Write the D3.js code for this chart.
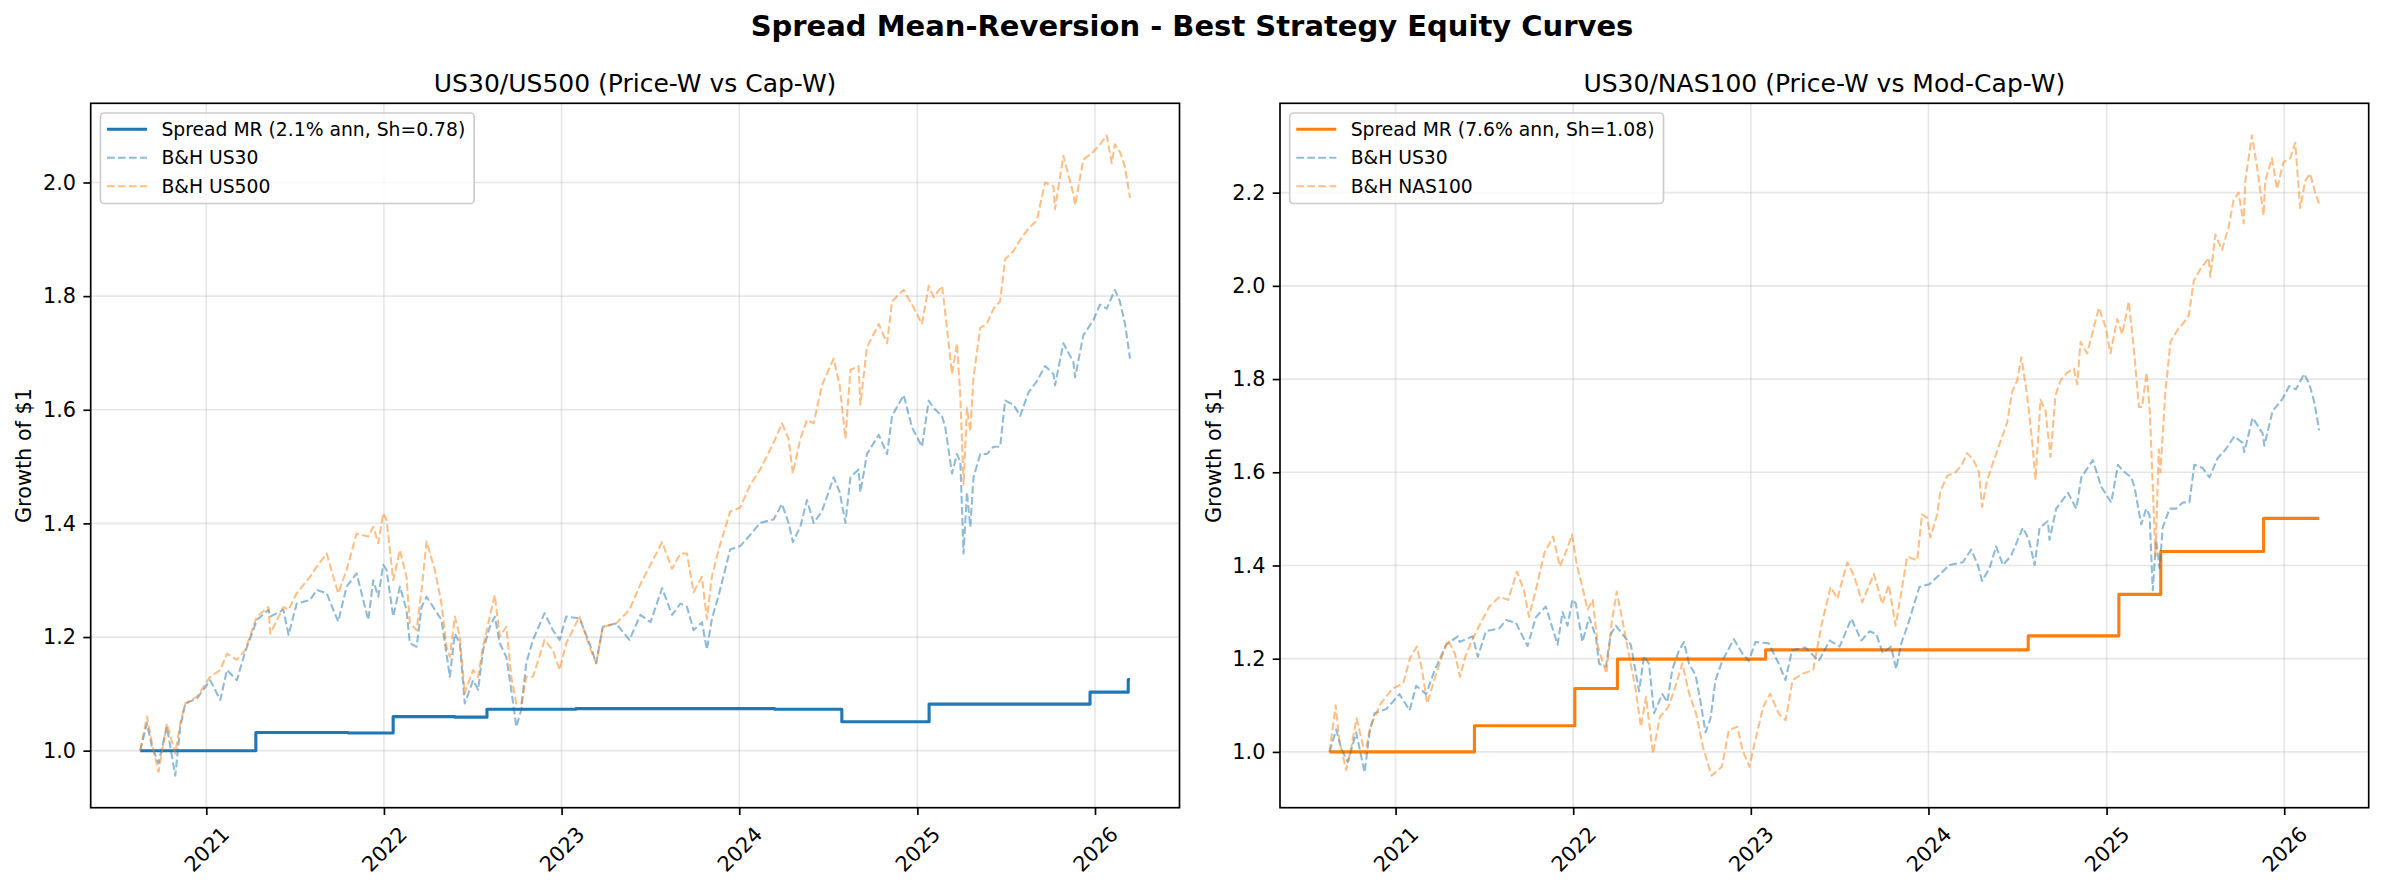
<!DOCTYPE html>
<html><head><meta charset="utf-8">
<script src="https://cdn.jsdelivr.net/npm/d3@7"></script>
<style>
html,body{margin:0;padding:0;background:#fff;}
svg{display:block;font-family:"DejaVu Sans",sans-serif;}
</style></head><body>
<svg id="chart" width="2384" height="889"></svg>
<script>
// ---------------- DATA (times are decimal years) ----------------
const bhTime = [2020.629,2020.667,2020.695,2020.732,2020.779,2020.826,2020.854,2020.882,2020.948,2021.022,
2021.079,2021.116,2021.172,2021.219,2021.285,2021.350,2021.360,2021.434,2021.463,2021.509,
2021.584,2021.622,2021.678,2021.715,2021.743,2021.790,2021.846,2021.912,2021.940,2021.968,
2021.996,2022.015,2022.052,2022.090,2022.127,2022.146,2022.184,2022.212,2022.240,2022.287,
2022.324,2022.352,2022.371,2022.399,2022.427,2022.455,2022.502,2022.530,2022.558,2022.596,
2022.624,2022.652,2022.689,2022.717,2022.745,2022.773,2022.801,2022.839,2022.904,2022.951,
2022.989,2023.026,2023.101,2023.157,2023.195,2023.232,2023.307,2023.382,
2023.444,2023.500,2023.566,2023.622,2023.669,2023.706,2023.743,2023.790,2023.818,2023.846,
2023.884,2023.949,2024.006,2024.062,2024.118,2024.193,2024.240,2024.277,2024.301,2024.343,
2024.380,2024.418,2024.464,2024.530,2024.564,2024.596,2024.624,2024.670,2024.680,2024.717,
2024.783,2024.830,2024.858,2024.923,2024.970,2025.026,2025.064,2025.092,2025.139,2025.157,
2025.195,2025.223,2025.242,2025.260,2025.279,2025.298,2025.316,2025.354,2025.391,2025.429,
2025.466,2025.494,2025.541,2025.579,2025.625,2025.672,2025.719,2025.766,2025.775,2025.822,
2025.878,2025.888,2025.934,2025.991,2026.028,2026.066,2026.094,2026.112,2026.140,2026.169,
2026.197];

const us30 = [1.000,1.048,1.007,0.978,1.042,0.956,1.042,1.083,1.092,1.124,
1.089,1.142,1.124,1.174,1.230,1.248,1.236,1.248,1.204,1.259,
1.265,1.283,1.277,1.248,1.227,1.289,1.312,1.230,1.300,1.271,
1.327,1.318,1.236,1.289,1.248,1.189,1.183,1.253,1.271,1.248,
1.230,1.171,1.130,1.206,1.189,1.083,1.124,1.107,1.177,1.218,
1.236,1.189,1.165,1.107,1.042,1.072,1.154,1.195,1.242,1.212,
1.195,1.236,1.233,1.189,1.154,1.218,1.224,1.195,
1.239,1.226,1.286,1.239,1.259,1.253,1.212,1.226,1.178,1.232,
1.273,1.354,1.360,1.380,1.401,1.407,1.434,1.401,1.367,1.394,
1.441,1.401,1.421,1.481,1.455,1.401,1.481,1.495,1.455,1.522,
1.556,1.522,1.589,1.626,1.569,1.535,1.616,1.603,1.589,1.569,
1.488,1.522,1.508,1.347,1.455,1.394,1.481,1.522,1.522,1.535,
1.535,1.616,1.609,1.589,1.630,1.650,1.677,1.663,1.643,1.717,
1.684,1.657,1.731,1.758,1.785,1.778,1.798,1.811,1.791,1.751,
1.690];

const us500 = [1.000,1.060,1.013,0.963,1.048,0.995,1.048,1.083,1.095,1.130,
1.142,1.171,1.160,1.177,1.236,1.253,1.206,1.253,1.248,1.277,
1.306,1.324,1.347,1.306,1.277,1.318,1.382,1.377,1.394,1.365,
1.418,1.406,1.300,1.353,1.306,1.224,1.212,1.283,1.368,1.318,
1.259,1.183,1.165,1.236,1.201,1.101,1.142,1.130,1.183,1.236,
1.274,1.201,1.218,1.130,1.083,1.083,1.130,1.130,1.195,1.177,
1.142,1.189,1.236,1.183,1.154,1.218,1.224,1.248,
1.293,1.327,1.367,1.320,1.347,1.347,1.279,1.306,1.232,1.306,
1.354,1.421,1.428,1.468,1.495,1.542,1.576,1.549,1.488,1.549,
1.582,1.576,1.643,1.690,1.643,1.549,1.670,1.677,1.609,1.710,
1.751,1.717,1.791,1.811,1.785,1.751,1.818,1.798,1.818,1.771,
1.663,1.717,1.623,1.468,1.603,1.562,1.657,1.744,1.751,1.778,
1.791,1.865,1.879,1.899,1.919,1.933,2.000,1.993,1.953,2.047,
1.980,1.960,2.040,2.054,2.067,2.083,2.034,2.067,2.054,2.027,
1.973];

const nasTime = [2020.629,2020.664,2020.684,2020.723,2020.752,2020.781,2020.810,2020.829,2020.858,2020.917,
2020.984,2021.043,2021.081,2021.120,2021.149,2021.178,2021.217,2021.266,2021.295,2021.334,
2021.363,2021.392,2021.431,2021.469,2021.528,2021.586,2021.634,2021.683,2021.722,2021.751,
2021.790,2021.838,2021.887,2021.925,2021.964,2021.993,2022.022,2022.051,2022.081,2022.110,
2022.139,2022.187,2022.216,2022.245,2022.284,2022.323,2022.352,2022.381,2022.410,2022.449,
2022.488,2022.536,2022.575,2022.614,2022.653,2022.692,2022.730,2022.779,2022.837,2022.876,
2022.924,2022.953,2022.992,2023.021,2023.070,2023.109,2023.157,2023.196,2023.235,2023.293,
2023.351,2023.400,
2023.449,2023.487,2023.543,2023.581,2023.627,2023.693,2023.740,2023.777,2023.815,2023.852,
2023.880,2023.936,2023.964,2023.993,2024.011,2024.049,2024.067,2024.105,2024.152,2024.189,
2024.217,2024.255,2024.283,2024.301,2024.330,2024.367,2024.404,2024.442,2024.470,2024.498,
2024.522,2024.554,2024.582,2024.601,2024.629,2024.657,2024.685,2024.713,2024.742,2024.779,
2024.816,2024.835,2024.854,2024.891,2024.929,2024.957,2024.994,2025.022,2025.060,2025.088,
2025.125,2025.154,2025.182,2025.200,2025.225,2025.243,2025.262,2025.275,2025.294,2025.303,
2025.331,2025.360,2025.397,2025.434,2025.463,2025.491,2025.528,2025.575,2025.584,2025.612,
2025.650,2025.687,2025.715,2025.743,2025.772,2025.781,2025.818,2025.846,2025.884,2025.893,
2025.931,2025.959,2025.996,2026.034,2026.062,2026.090,2026.118,2026.146,2026.174,2026.197];

const nas100 = [1.000,1.100,1.025,0.961,1.011,1.072,1.025,0.996,1.054,1.104,
1.136,1.147,1.201,1.226,1.176,1.104,1.154,1.211,1.240,1.211,
1.161,1.204,1.240,1.269,1.312,1.333,1.326,1.387,1.348,1.290,
1.348,1.427,1.462,1.398,1.434,1.466,1.398,1.355,1.305,1.326,
1.226,1.168,1.276,1.344,1.269,1.190,1.133,1.054,1.118,0.996,
1.075,1.097,1.140,1.190,1.125,1.082,1.011,0.949,0.968,1.047,
1.054,1.004,0.968,1.018,1.097,1.125,1.082,1.068,1.154,1.168,
1.176,1.276,
1.354,1.329,1.407,1.378,1.321,1.382,1.317,1.358,1.271,1.354,
1.419,1.411,1.510,1.502,1.460,1.510,1.559,1.592,1.600,1.617,
1.641,1.625,1.600,1.526,1.584,1.625,1.666,1.707,1.773,1.797,
1.847,1.765,1.666,1.584,1.756,1.732,1.633,1.765,1.797,1.814,
1.822,1.789,1.880,1.855,1.912,1.953,1.912,1.855,1.929,1.896,
1.966,1.863,1.740,1.740,1.814,1.732,1.551,1.420,1.649,1.600,
1.773,1.880,1.904,1.921,1.937,2.011,2.036,2.060,2.019,2.110,
2.077,2.126,2.184,2.200,2.134,2.225,2.323,2.258,2.151,2.225,
2.274,2.208,2.266,2.274,2.307,2.167,2.225,2.241,2.200,2.175];

const mrLeftTime = [2020.629,2021.279,2021.800,2022.052,2022.400,2022.580,2023.080,2024.200,2024.576,2025.066,2025.972,2026.187,2026.197];
const mrLeft     = [1.000,1.032,1.031,1.060,1.059,1.073,1.074,1.073,1.051,1.082,1.103,1.125,1.125];
const mrRightTime = [2020.629,2021.444,2022.009,2022.249,2023.083,2024.560,2025.069,2025.305,2025.884,2026.197];
const mrRight     = [1.000,1.056,1.136,1.199,1.219,1.249,1.338,1.430,1.501,1.501];

const suptitle = "Spread Mean-Reversion - Best Strategy Equity Curves";
const panelTitles = ["US30/US500 (Price-W vs Cap-W)", "US30/NAS100 (Price-W vs Mod-Cap-W)"];
const legendLabels = [
  ["Spread MR (2.1% ann, Sh=0.78)", "B&H US30", "B&H US500"],
  ["Spread MR (7.6% ann, Sh=1.08)", "B&H US30", "B&H NAS100"]
];
const yLabel = "Growth of $1";

// ---------------- DRAWING ----------------
const W = 2384, H = 889;
const svg = d3.select("#chart");
svg.append("rect").attr("width", W).attr("height", H).attr("fill", "#fff");

const toDate = y => { const yr = Math.floor(y); const a = Date.UTC(yr,0,1), b = Date.UTC(yr+1,0,1); return new Date(a + (y-yr)*(b-a)); };
const zip = (t, v) => t.map((d,i) => ({t: toDate(d), v: v[i]}));

const C0 = "#1f77b4", C1 = "#ff7f0e";
const panels = [
  { x0: 90.7, x1: 1179.5, title: panelTitles[0], labels: legendLabels[0],
    series: [
      { data: zip(mrLeftTime, mrLeft), color: C0, width: 3.1, dash: null, op: 1, step: true },
      { data: zip(bhTime, us30), color: C0, width: 2.08, dash: "7.7,3.3", op: 0.5 },
      { data: zip(bhTime, us500), color: C1, width: 2.08, dash: "7.7,3.3", op: 0.5 }
    ]},
  { x0: 1280, x1: 2368.7, title: panelTitles[1], labels: legendLabels[1],
    series: [
      { data: zip(mrRightTime, mrRight), color: C1, width: 3.1, dash: null, op: 1, step: true },
      { data: zip(bhTime, us30), color: C0, width: 2.08, dash: "7.7,3.3", op: 0.5 },
      { data: zip(nasTime, nas100), color: C1, width: 2.08, dash: "7.7,3.3", op: 0.5 }
    ]}
];
const yTop = 103.3, yBot = 807.7;
const tickFS = 20.8, legFS = 18.75;

svg.append("text").attr("x", W/2).attr("y", 36).attr("text-anchor", "middle")
  .attr("font-size", 29).attr("font-weight", "bold").attr("fill", "#000").text(suptitle);

panels.forEach(p => {
  const all = p.series.flatMap(s => s.data);
  const [tmin, tmax] = d3.extent(all, d => +d.t);
  const tpad = (tmax - tmin) * 0.05;
  const x = d3.scaleUtc().domain([new Date(tmin - tpad), new Date(tmax + tpad)]).range([p.x0, p.x1]);
  const [vmin, vmax] = d3.extent(all, d => d.v);
  const vpad = (vmax - vmin) * 0.05;
  const y = d3.scaleLinear().domain([vmin - vpad, vmax + vpad]).range([yBot, yTop]);

  const g = svg.append("g");
  const xt = x.ticks(d3.utcYear.every(1));
  const yt = y.ticks(7).filter(v => Math.abs(v*5 - Math.round(v*5)) < 1e-9);

  // grid
  g.append("g").selectAll("line").data(xt).join("line")
    .attr("x1", d => x(d)).attr("x2", d => x(d)).attr("y1", yTop).attr("y2", yBot)
    .attr("stroke", "#b0b0b0").attr("stroke-opacity", 0.3).attr("stroke-width", 1.67);
  g.append("g").selectAll("line").data(yt).join("line")
    .attr("y1", d => y(d)).attr("y2", d => y(d)).attr("x1", p.x0).attr("x2", p.x1)
    .attr("stroke", "#b0b0b0").attr("stroke-opacity", 0.3).attr("stroke-width", 1.67);

  // series
  p.series.forEach(s => {
    const line = d3.line().x(d => x(d.t)).y(d => y(d.v));
    if (s.step) line.curve(d3.curveStepAfter);
    g.append("path").datum(s.data).attr("d", line)
      .attr("fill", "none").attr("stroke", s.color).attr("stroke-width", s.width)
      .attr("stroke-opacity", s.op).attr("stroke-dasharray", s.dash)
      .attr("stroke-linejoin", "round");
  });

  // spines
  g.append("rect").attr("x", p.x0).attr("y", yTop).attr("width", p.x1 - p.x0).attr("height", yBot - yTop)
    .attr("fill", "none").attr("stroke", "#000").attr("stroke-width", 1.67);

  // axes
  const ax = g.append("g").attr("transform", `translate(0,${yBot})`)
    .call(d3.axisBottom(x).tickValues(xt).tickFormat(d3.utcFormat("%Y")).tickSize(7.3).tickSizeOuter(0));
  ax.select(".domain").remove();
  ax.selectAll(".tick line").attr("stroke", "#000").attr("stroke-width", 1.67);
  ax.selectAll(".tick text").attr("y", 0).attr("dy", "0.35em")
    .attr("transform", "translate(0,41.5) rotate(-45)").attr("text-anchor", "middle")
    .attr("font-size", tickFS).attr("font-family", "DejaVu Sans").attr("fill", "#000");

  const ay = g.append("g").attr("transform", `translate(${p.x0},0)`)
    .call(d3.axisLeft(y).tickValues(yt).tickFormat(d3.format(".1f")).tickSize(7.3).tickPadding(7.3).tickSizeOuter(0));
  ay.select(".domain").remove();
  ay.selectAll(".tick line").attr("stroke", "#000").attr("stroke-width", 1.67);
  ay.selectAll(".tick text").attr("font-size", tickFS).attr("font-family", "DejaVu Sans").attr("fill", "#000");

  // title
  g.append("text").attr("x", (p.x0 + p.x1)/2).attr("y", 92).attr("text-anchor", "middle")
    .attr("font-size", 25).attr("fill", "#000").text(p.title);
  // y label
  g.append("text").attr("transform", `translate(${p.x0 - 66.7},${(yTop+yBot)/2}) rotate(-90)`)
    .attr("text-anchor", "middle").attr("dy", "0.35em").attr("font-size", tickFS).attr("fill", "#000").text(yLabel);

  // legend
  const lx = p.x0 + 9.7, ly = yTop + 9.7;
  const lg = g.append("g").attr("transform", `translate(${lx},${ly})`);
  const box = lg.append("rect").attr("rx", 3.75).attr("ry", 3.75)
    .attr("fill", "#fff").attr("fill-opacity", 0.8).attr("stroke", "#cccccc").attr("stroke-width", 1.67);
  const rowsY = [16.3, 44.7, 73.3];
  let maxW = 0;
  p.series.forEach((s, i) => {
    lg.append("line").attr("x1", 6.6).attr("x2", 46.6).attr("y1", rowsY[i]).attr("y2", rowsY[i])
      .attr("stroke", s.color).attr("stroke-width", s.width).attr("stroke-opacity", s.op)
      .attr("stroke-dasharray", s.dash);
    const t = lg.append("text").attr("x", 61).attr("y", rowsY[i]).attr("dy", "0.35em")
      .attr("font-size", legFS).attr("fill", "#000").text(p.labels[i]);
    maxW = Math.max(maxW, t.node().getComputedTextLength());
  });
  box.attr("width", 61 + maxW + 9).attr("height", 90.5);
});
</script>
</body></html>
